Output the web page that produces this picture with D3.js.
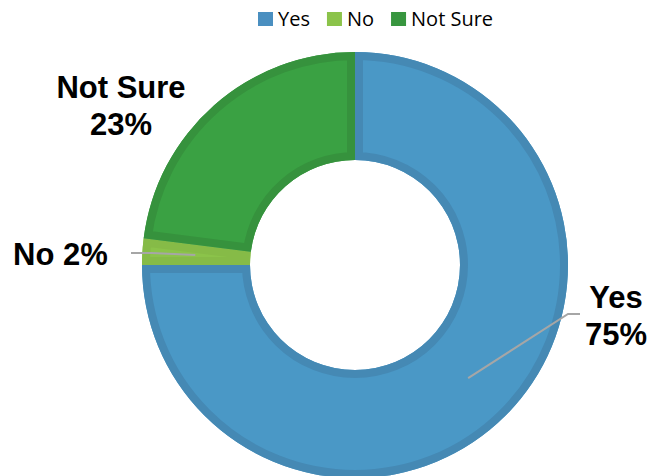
<!DOCTYPE html>
<html>
<head>
<meta charset="utf-8">
<script src="https://cdn.jsdelivr.net/npm/d3@7"></script>
<style>
  html, body { margin: 0; padding: 0; background: #ffffff; }
  svg { display: block; }
</style>
</head>
<body>
<svg id="chart" width="652" height="476"></svg>
<script>
const categories = ["Yes", "No", "Not Sure"];
const values = [75, 2, 23];
const labelTexts = [["Yes", "75%"], ["No 2%"], ["Not Sure", "23%"]];
const fillColors = ["#4a98c6", "#8bc34a", "#3aa143"];
const borderColors = ["#4589b4", "#86bb47", "#36923d"];
const legendColors = ["#4a8fc0", "#8bc34a", "#38963f"];

const svg = d3.select("#chart");
const cx = 355, cy = 265, outerR = 213, innerR = 105;

const pie = d3.pie().sort(null).value(d => d)(values);
const arc = d3.arc().innerRadius(innerR).outerRadius(outerR);

const g = svg.append("g").attr("transform", `translate(${cx},${cy})`);
const defs = svg.append("defs");

pie.forEach((p, i) => {
  defs.append("clipPath").attr("id", "clip" + i)
    .append("path").attr("d", arc(p));
  g.append("path")
    .attr("d", arc(p))
    .attr("fill", fillColors[i]);
  g.append("path")
    .attr("d", arc(p))
    .attr("fill", "none")
    .attr("stroke", borderColors[i])
    .attr("stroke-width", 16)
    .attr("clip-path", `url(#clip${i})`);
});

// leader lines
const line = d3.line();
const polar = (a, r) => [r * Math.sin(a), -r * Math.cos(a)];
{
  const p = pie[0];
  const a = (p.startAngle + p.endAngle) / 2;
  const start = polar(a, 160);
  const bend = [568 - cx, 314 - cy];
  const end = [580 - cx, 314 - cy];
  g.append("path").attr("d", line([start, bend, end]))
    .attr("fill", "none").attr("stroke", "#a6a6a6").attr("stroke-width", 2);
}
{
  const p = pie[1];
  const a = (p.startAngle + p.endAngle) / 2;
  const start = polar(a, 160);
  const bend = [152 - cx, 253 - cy];
  const end = [131 - cx, 253 - cy];
  g.append("path").attr("d", line([start, bend, end]))
    .attr("fill", "none").attr("stroke", "#a6a6a6").attr("stroke-width", 2);
}

// labels
const labelFont = "'Liberation Sans', Arial, sans-serif";
function addLabel(lines, x, y, anchor) {
  const t = svg.append("text")
    .attr("x", x).attr("y", y)
    .attr("text-anchor", anchor)
    .attr("font-family", labelFont)
    .attr("font-weight", "bold")
    .attr("font-size", 31)
    .attr("fill", "#000");
  lines.forEach((s, k) => {
    t.append("tspan").attr("x", x).attr("dy", k === 0 ? 0 : 37).text(s);
  });
}
addLabel(labelTexts[0], 616, 308, "middle");
addLabel(labelTexts[1], 13, 265, "start");
addLabel(labelTexts[2], 121, 98, "middle");

// legend
const legend = svg.append("g");
let lx = 258;
categories.forEach((c, i) => {
  legend.append("rect").attr("x", lx).attr("y", 12).attr("width", 15).attr("height", 14)
    .attr("fill", legendColors[i]);
  const t = legend.append("text").attr("x", lx + 20).attr("y", 26)
    .attr("font-family", "'Open Sans', 'Noto Sans', sans-serif")
    .attr("font-size", 20)
    .attr("fill", "#000")
    .text(c);
  const w = t.node().getComputedTextLength();
  lx += 20 + w + 17;
});
</script>
</body>
</html>
